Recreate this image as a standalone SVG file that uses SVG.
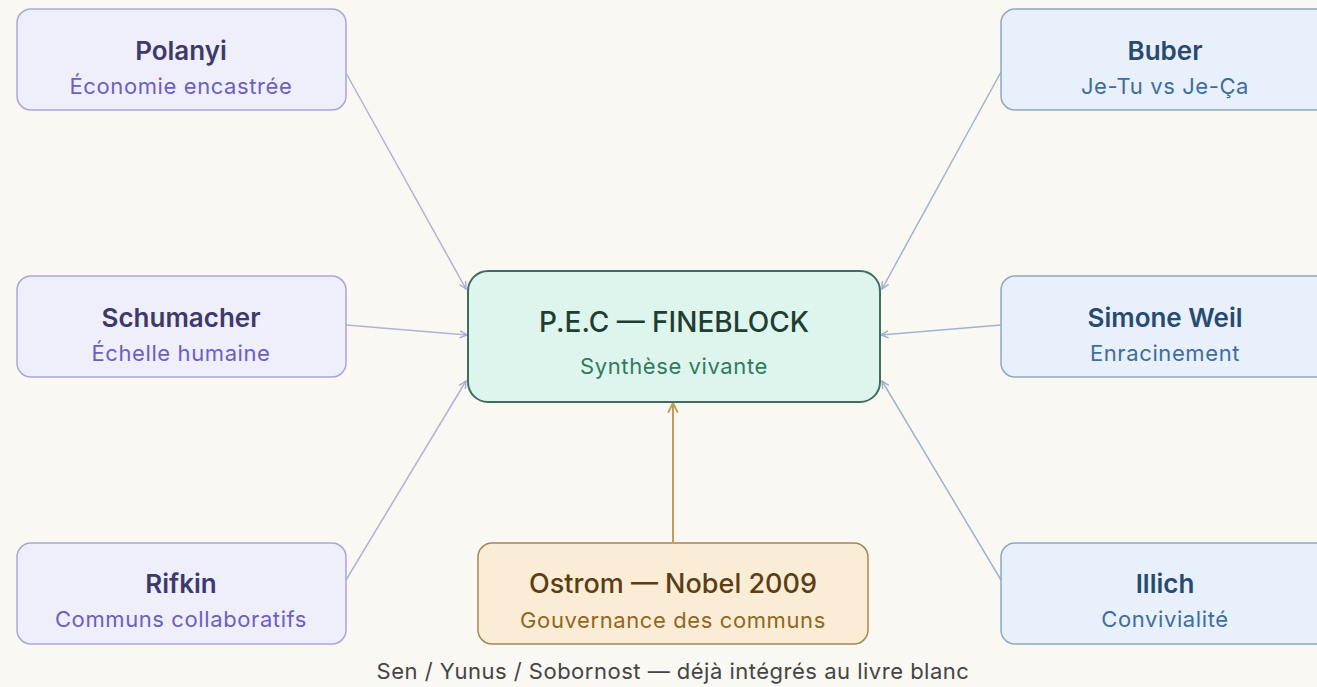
<svg xmlns="http://www.w3.org/2000/svg" width="1317" height="687" viewBox="0 0 1317 687">
<style>
text{font-family:Inter,"Noto Sans","Liberation Sans",sans-serif;text-anchor:middle;dominant-baseline:central}
.t{font-size:26px;font-weight:600}
.s{font-size:22px;font-weight:400;letter-spacing:0.6px}
.L rect{fill:#efeefb;stroke:#aaa7d6;stroke-width:1.5}
.L .t{fill:#3d3a6b}.L .s{fill:#6b60c2}
.R rect{fill:#e7f0fb;stroke:#8fa8c6;stroke-width:1.5}
.R .t{fill:#284a70}.R .s{fill:#3e6d9e}
.conn line{stroke:#b3b1d6;stroke-width:1.5;fill:none}
.conn line.r{stroke:#9fb4cf}
.conn line.o{stroke:#c49a5e;stroke-width:2}
</style>
<defs>
<marker id="a" viewBox="0 0 10 10" refX="9" refY="5" markerWidth="9" markerHeight="9" orient="auto" markerUnits="userSpaceOnUse"><path d="M1,1 L9,5 L1,9" fill="none" stroke="#a9a6d0" stroke-width="1.5"/></marker>
<marker id="b" viewBox="0 0 10 10" refX="9" refY="5" markerWidth="9" markerHeight="9" orient="auto" markerUnits="userSpaceOnUse"><path d="M1,1 L9,5 L1,9" fill="none" stroke="#97adc9" stroke-width="1.5"/></marker>
<marker id="c" viewBox="0 0 10 10" refX="9" refY="5" markerWidth="12" markerHeight="12" orient="auto" markerUnits="userSpaceOnUse"><path d="M1,1 L9,5 L1,9" fill="none" stroke="#c49a5e" stroke-width="1.6"/></marker>
</defs>
<rect width="1317" height="687" fill="#faf8f3"/>
<g class="conn">
<line x1="346" y1="73" x2="466" y2="289" marker-end="url(#a)"/>
<line x1="346" y1="325" x2="467" y2="335" marker-end="url(#a)"/>
<line x1="346" y1="580" x2="466" y2="381" marker-end="url(#a)"/>
<line class="r" x1="1001" y1="72" x2="882" y2="289" marker-end="url(#b)"/>
<line class="r" x1="1001" y1="325" x2="881" y2="335" marker-end="url(#b)"/>
<line class="r" x1="1001" y1="580" x2="882" y2="381" marker-end="url(#b)"/>
<line class="o" x1="673" y1="542" x2="673" y2="403" marker-end="url(#c)"/>
</g>
<g id="polanyi" class="L"><rect x="17" y="9" width="329" height="101" rx="14"/><text class="t" x="181" y="50">Polanyi</text><text class="s" x="181" y="86">Économie encastrée</text></g>
<g id="schumacher" class="L"><rect x="17" y="276" width="329" height="101" rx="14"/><text class="t" x="181" y="317">Schumacher</text><text class="s" x="181" y="353">Échelle humaine</text></g>
<g id="rifkin" class="L"><rect x="17" y="543" width="329" height="101" rx="14"/><text class="t" x="181" y="583">Rifkin</text><text class="s" x="181" y="619">Communs collaboratifs</text></g>
<g id="buber" class="R"><rect x="1001" y="9" width="329" height="101" rx="14"/><text class="t" x="1165" y="50">Buber</text><text class="s" x="1165" y="86">Je-Tu vs Je-Ça</text></g>
<g id="weil" class="R"><rect x="1001" y="276" width="329" height="101" rx="14"/><text class="t" x="1165" y="317">Simone Weil</text><text class="s" x="1165" y="353">Enracinement</text></g>
<g id="illich" class="R"><rect x="1001" y="543" width="329" height="101" rx="14"/><text class="t" x="1165" y="583">Illich</text><text class="s" x="1165" y="619">Convivialité</text></g>
<g id="pec"><rect x="468" y="271" width="412" height="131" rx="20" fill="#def5ee" stroke="#3f6e5e" stroke-width="2"/><text x="674" y="322" font-size="28" font-weight="500" fill="#1e3d33">P.E.C — FINEBLOCK</text><text x="674" y="366" font-size="22" letter-spacing="0.6" fill="#2f7b5d">Synthèse vivante</text></g>
<g id="ostrom"><rect x="478" y="543" width="390" height="101" rx="14" fill="#fbecd6" stroke="#a3875a" stroke-width="1.5"/><text x="673" y="583" font-size="27" font-weight="500" fill="#5b3e14">Ostrom — Nobel 2009</text><text x="673" y="620" font-size="22" letter-spacing="0.6" fill="#91671f">Gouvernance des communs</text></g>
<text id="footer" x="673" y="671" font-size="22" letter-spacing="0.5" fill="#444">Sen / Yunus / Sobornost — déjà intégrés au livre blanc</text>
</svg>
